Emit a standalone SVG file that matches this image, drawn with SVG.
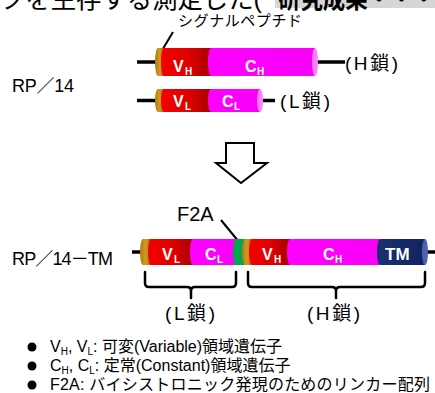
<svg xmlns="http://www.w3.org/2000/svg" width="435" height="393" viewBox="0 0 435 393">
<defs>
<linearGradient id="gRed" x1="0" y1="0" x2="1" y2="0">
<stop offset="0" stop-color="#f40000"/><stop offset="0.55" stop-color="#e00000"/><stop offset="1" stop-color="#a50000"/>
</linearGradient>
<linearGradient id="gMag" x1="0" y1="0" x2="1" y2="0">
<stop offset="0" stop-color="#ff00ff"/><stop offset="1" stop-color="#f800f8"/>
</linearGradient>
<linearGradient id="gGold" x1="0" y1="0" x2="1" y2="0">
<stop offset="0" stop-color="#b07a10"/><stop offset="0.5" stop-color="#d09a20"/><stop offset="1" stop-color="#a87010"/>
</linearGradient>
<linearGradient id="gNavy" x1="0" y1="0" x2="1" y2="0">
<stop offset="0" stop-color="#1a3070"/><stop offset="1" stop-color="#0f2460"/>
</linearGradient>
<style>
.ln{stroke:#000;stroke-width:3.5;fill:none}
.ld{stroke:#000;stroke-width:2;fill:none}
.br{stroke:#000;stroke-width:2.5;fill:none;stroke-linecap:round}
.t{font-family:"Liberation Sans","Noto Sans CJK JP",sans-serif;fill:#000}
.w{font-family:"Liberation Sans",sans-serif;fill:#fff;font-weight:bold}
.red{fill:url(#gRed)}
.mag{fill:url(#gMag)}
.gold{fill:url(#gGold)}
.grn{fill:#00a850}
.navy{fill:url(#gNavy)}
</style>
</defs>
<rect width="435" height="393" fill="#fff"/>

<g id="header-fragment">
<rect x="275" y="0" width="160" height="8" fill="#d6d6d6"/>
<text class="t" x="0" y="8" font-size="25" textLength="262" lengthAdjust="spacingAndGlyphs">クを生存する測定した(</text>
<text class="t" x="278" y="8" font-size="25" font-weight="bold" textLength="157" lengthAdjust="spacingAndGlyphs">研究成果・・・</text>
</g>

<g id="label-rp14"><text class="t" x="12" y="92" font-size="18" textLength="62">RP／14</text></g>
<g id="label-signal"><text class="t" x="178" y="26" font-size="15" textLength="124">シグナルペプチド</text></g>

<g id="connectors">
<line class="ld" x1="173" y1="32" x2="161" y2="52"/>
<line class="ld" x1="221" y1="220" x2="239" y2="242"/>
<line class="ln" x1="137" y1="62" x2="158" y2="62"/>
<line class="ln" x1="315" y1="62" x2="345" y2="62"/>
<line class="ln" x1="137" y1="100.5" x2="158" y2="100.5"/>
<line class="ln" x1="260" y1="100.5" x2="275" y2="100.5"/>
<line class="ln" x1="132" y1="252" x2="143" y2="252"/>
<line class="ln" x1="425" y1="252" x2="435" y2="252"/>
</g>

<g id="rp14-h">
<path class="gold" d="M158,48H164V76H158A3,14 0 0 1 158,48Z"/>
<path class="red" d="M164,48H211V76H164A3,14 0 0 1 164,48Z"/>
<path class="mag" d="M211,48H315V76H211A3,14 0 0 1 211,48Z"/>
<ellipse cx="315" cy="62" rx="3" ry="14" fill="#ff80ff"/>
<text class="w" x="173" y="72" font-size="16">V</text><text class="w" x="185" y="75" font-size="10">H</text>
<text class="w" x="245" y="72" font-size="16">C</text><text class="w" x="257" y="75" font-size="10">H</text>
<text class="t" x="345" y="70" font-size="19" textLength="53">(H鎖)</text>
</g>

<g id="rp14-l">
<path class="gold" d="M158,89H164V112H158A3,11.5 0 0 1 158,89Z"/>
<path class="red" d="M164,89H211V112H164A3,11.5 0 0 1 164,89Z"/>
<path class="mag" d="M211,89H260V112H211A3,11.5 0 0 1 211,89Z"/>
<ellipse cx="260" cy="100.5" rx="3" ry="11.5" fill="#ff80ff"/>
<text class="w" x="173" y="107" font-size="16">V</text><text class="w" x="185" y="110" font-size="10">L</text>
<text class="w" x="222" y="107" font-size="16">C</text><text class="w" x="234" y="110" font-size="10">L</text>
<text class="t" x="280" y="108" font-size="19" textLength="50">(L鎖)</text>
</g>

<g id="arrow">
<polygon points="226,143 254,143 254,163 267,163 241,183 216,163 226,163" fill="#fff" stroke="#000" stroke-width="2" stroke-linejoin="miter"/>
</g>

<g id="label-f2a"><text class="t" x="177" y="221" font-size="20">F2A</text></g>
<g id="label-rp14tm"><text class="t" x="12" y="265" font-size="18" textLength="101">RP／14－TM</text></g>

<g id="rp14-tm">
<path class="gold" d="M143,239H151V265H143A3,13 0 0 1 143,239Z"/>
<path class="red" d="M151,239H193V265H151A3,13 0 0 1 151,239Z"/>
<path class="mag" d="M193,239H236V265H193A3,13 0 0 1 193,239Z"/>
<path class="grn" d="M236,239H245V265H236A3,13 0 0 1 236,239Z"/>
<path class="gold" d="M245,239H252V265H245A3,13 0 0 1 245,239Z"/>
<path class="red" d="M252,239H290V265H252A3,13 0 0 1 252,239Z"/>
<path class="mag" d="M290,239H380V265H290A3,13 0 0 1 290,239Z"/>
<path class="navy" d="M380,239H425V265H380A3,13 0 0 1 380,239Z"/>
<ellipse cx="425" cy="252" rx="3" ry="13" fill="#4a64a8"/>
<text class="w" x="162" y="260" font-size="16">V</text><text class="w" x="174" y="263" font-size="10">L</text>
<text class="w" x="205" y="260" font-size="16">C</text><text class="w" x="217" y="263" font-size="10">L</text>
<text class="w" x="262" y="260" font-size="16">V</text><text class="w" x="274" y="263" font-size="10">H</text>
<text class="w" x="323" y="260" font-size="16">C</text><text class="w" x="335" y="263" font-size="10">H</text>
<text class="w" x="385" y="260" font-size="17">TM</text>
</g>

<g id="bracket-l">
<path class="br" d="M145,272V283Q145,287 149,287H187Q191,287 191,291V298M191,291Q191,287 195,287H232Q236,287 236,283V272"/>
<text class="t" x="165" y="320" font-size="19" textLength="50">(L鎖)</text>
</g>
<g id="bracket-h">
<path class="br" d="M248,272V283Q248,287 252,287H332Q336,287 336,291V298M336,291Q336,287 340,287H421Q425,287 425,283V272"/>
<text class="t" x="307" y="320" font-size="19" textLength="53">(H鎖)</text>
</g>

<g id="legend">
<circle cx="32" cy="347" r="4.5" fill="#000"/>
<circle cx="32" cy="366" r="4.5" fill="#000"/>
<circle cx="32" cy="385" r="4.5" fill="#000"/>
<text class="t" x="50" y="352" font-size="16">V<tspan font-size="10" dy="3">H</tspan><tspan dy="-3">, V</tspan><tspan font-size="10" dy="3">L</tspan><tspan dy="-3">: 可変(Variable)領域遺伝子</tspan></text>
<text class="t" x="50" y="371" font-size="16">C<tspan font-size="10" dy="3">H</tspan><tspan dy="-3">, C</tspan><tspan font-size="10" dy="3">L</tspan><tspan dy="-3">: 定常(Constant)領域遺伝子</tspan></text>
<text class="t" x="50" y="390" font-size="16" textLength="380">F2A: バイシストロニック発現のためのリンカー配列</text>
</g>
</svg>
